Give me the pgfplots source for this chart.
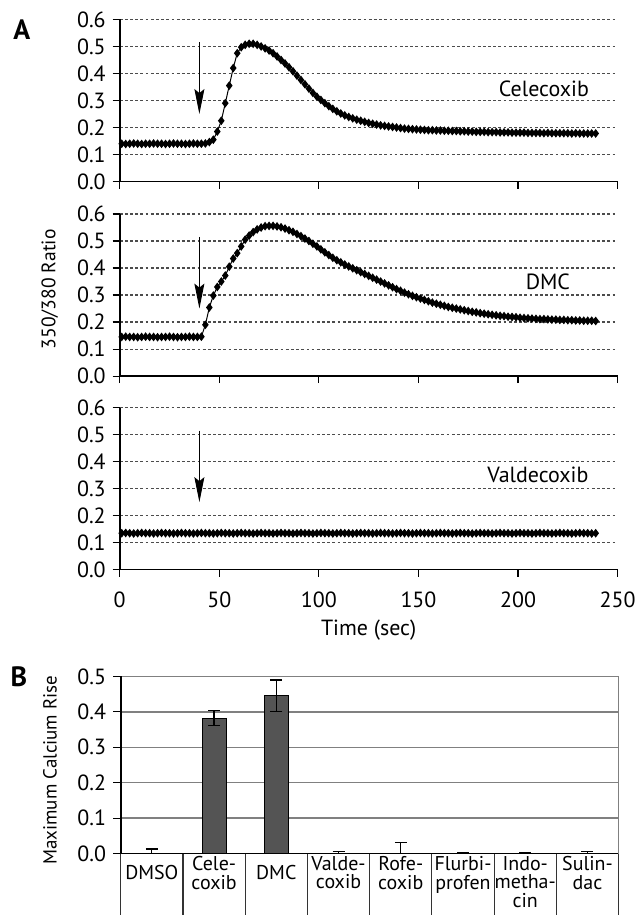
\documentclass[border=0pt]{standalone}
\usepackage{fontspec}
\setmainfont{PT Sans}
\usepackage{pgfplots}
\pgfplotsset{compat=1.18}
\usepackage{pgfplotstable}
\usetikzlibrary{arrows.meta}

% 350/380 ratio traces (time in s)
\pgfplotstableread{
t   C     D     V
1   0.140 0.145 0.135
3   0.139 0.146 0.136
5   0.140 0.145 0.135
7   0.141 0.145 0.134
9   0.140 0.144 0.135
11  0.139 0.145 0.136
13  0.140 0.146 0.135
15  0.140 0.145 0.135
17  0.141 0.145 0.134
19  0.140 0.144 0.135
21  0.140 0.145 0.136
23  0.139 0.145 0.135
25  0.140 0.146 0.135
27  0.141 0.145 0.134
29  0.140 0.144 0.135
31  0.140 0.145 0.136
33  0.139 0.145 0.135
35  0.140 0.146 0.135
37  0.141 0.145 0.134
39  0.140 0.145 0.135
41  0.140 0.146 0.136
43  0.141 0.190 0.135
45  0.146 0.254 0.135
47  0.155 0.298 0.134
49  0.185 0.330 0.135
51  0.225 0.350 0.136
53  0.290 0.372 0.135
55  0.355 0.405 0.135
57  0.420 0.435 0.134
59  0.475 0.455 0.135
61  0.497 0.480 0.136
63  0.506 0.505 0.135
65  0.510 0.520 0.135
67  0.510 0.533 0.134
69  0.506 0.543 0.135
71  0.500 0.550 0.136
73  0.493 0.555 0.135
75  0.485 0.556 0.135
77  0.475 0.556 0.134
79  0.463 0.554 0.135
81  0.450 0.551 0.136
83  0.437 0.546 0.135
85  0.423 0.540 0.135
87  0.408 0.534 0.134
89  0.392 0.526 0.135
91  0.376 0.518 0.136
93  0.360 0.509 0.135
95  0.344 0.500 0.135
97  0.328 0.490 0.134
99  0.314 0.480 0.135
101 0.302 0.469 0.136
103 0.290 0.458 0.135
105 0.279 0.448 0.135
107 0.269 0.438 0.134
109 0.260 0.429 0.135
111 0.252 0.421 0.136
113 0.245 0.413 0.135
115 0.239 0.406 0.135
117 0.234 0.399 0.134
119 0.229 0.392 0.135
121 0.225 0.385 0.136
123 0.221 0.378 0.135
125 0.217 0.371 0.135
127 0.214 0.364 0.134
129 0.211 0.357 0.135
131 0.208 0.350 0.136
133 0.206 0.343 0.135
135 0.204 0.336 0.135
137 0.202 0.329 0.134
139 0.200 0.322 0.135
141 0.198 0.316 0.136
143 0.196 0.309 0.135
145 0.195 0.303 0.135
147 0.194 0.297 0.134
149 0.193 0.292 0.135
151 0.192 0.287 0.136
153 0.191 0.282 0.135
155 0.190 0.277 0.135
157 0.190 0.272 0.134
159 0.189 0.268 0.135
161 0.189 0.264 0.136
163 0.188 0.260 0.135
165 0.188 0.256 0.135
167 0.187 0.253 0.134
169 0.187 0.250 0.135
171 0.186 0.247 0.136
173 0.186 0.244 0.135
175 0.185 0.241 0.135
177 0.185 0.238 0.134
179 0.184 0.236 0.135
181 0.184 0.233 0.136
183 0.184 0.231 0.135
185 0.183 0.229 0.135
187 0.183 0.227 0.134
189 0.183 0.225 0.135
191 0.182 0.223 0.136
193 0.182 0.222 0.135
195 0.182 0.220 0.135
197 0.181 0.219 0.134
199 0.181 0.218 0.135
201 0.181 0.216 0.136
203 0.181 0.215 0.135
205 0.180 0.214 0.135
207 0.180 0.213 0.134
209 0.180 0.212 0.135
211 0.180 0.211 0.136
213 0.179 0.211 0.135
215 0.180 0.210 0.135
217 0.179 0.209 0.134
219 0.179 0.209 0.135
221 0.179 0.208 0.136
223 0.179 0.208 0.135
225 0.179 0.207 0.135
227 0.178 0.207 0.134
229 0.179 0.206 0.135
231 0.178 0.206 0.136
233 0.178 0.205 0.135
235 0.178 0.205 0.135
237 0.178 0.205 0.134
239 0.178 0.204 0.135
}\ratio

\tikzset{
  inj/.style={-{Stealth[length=12.5pt, width=5pt, inset=2pt]}, line width=0.5pt},
  tag/.style={font=\fontsize{11}{13}\selectfont},
}

\pgfplotsset{
  panelA/.style={
    at={(60pt,#1)}, anchor=south west,
    scale only axis, width=249.5pt, height=81.25pt,
    xmin=0, xmax=250, ymin=0, ymax=0.6,
    axis lines*=left, axis line style={line width=0.8pt, -},
    xtick={0,50,100,150,200,250},
    ytick={0,0.1,0.2,0.3,0.4,0.5,0.6},
    tick align=outside, major tick length=3.5pt,
    tick style={black, line width=0.6pt},
    ymajorgrids,
    grid style={black!70, line width=0.6pt, dash pattern=on 1.4pt off 1.2pt},
    yticklabel style={/pgf/number format/fixed, /pgf/number format/fixed zerofill,
      /pgf/number format/precision=1},
    xticklabel style={yshift=-4pt},
    /pgf/number format/assume math mode=true,
    tick label style={font=\fontsize{11}{12}\selectfont},
    clip=false,
  },
  trace/.style={black, line width=0.5pt, mark=diamond*, mark size=1.8pt,
    mark options={solid, fill=black}},
}

\begin{document}
\begin{tikzpicture}
\path (0,0) rectangle (319pt,458pt);

\begin{axis}[panelA=367pt, xticklabels={}]
  \addplot[trace] table[x=t, y=C] {\ratio};
  \draw[inj] (axis cs:40,0.515) -- (axis cs:40,0.25);
  \node[tag] at (axis cs:213,0.345) {Celecoxib};
\end{axis}

\begin{axis}[panelA=269.5pt, xticklabels={}]
  \addplot[trace] table[x=t, y=D] {\ratio};
  \draw[inj] (axis cs:40,0.515) -- (axis cs:40,0.25);
  \node[tag] at (axis cs:215,0.348) {DMC};
\end{axis}

\begin{axis}[panelA=172.5pt, xlabel={Time (sec)},
  xlabel style={at={(axis description cs:0.5,0)}, yshift=-30.5pt, anchor=center,
    font=\fontsize{11}{13}\selectfont}]
  \addplot[trace] table[x=t, y=V] {\ratio};
  \draw[inj] (axis cs:40,0.515) -- (axis cs:40,0.25);
  \node[tag] at (axis cs:210,0.351) {Valdecoxib};
\end{axis}

\node[rotate=90, font=\fontsize{9.8}{11}\selectfont] at (25pt,313pt) {350/380 Ratio};
\node[font=\bfseries\fontsize{14}{14}\selectfont] at (11pt,443pt) {A};

\begin{axis}[
  at={(60.5pt,30.25pt)}, anchor=south west,
  scale only axis, width=249.5pt, height=88.75pt,
  xmin=0.5, xmax=8.5, ymin=0, ymax=0.5,
  axis lines*=left, axis line style={line width=0.8pt, -},
  ytick={0,0.1,0.2,0.3,0.4,0.5},
  xtick={1,2,3,4,5,6,7,8},
  xticklabels={{\raisebox{-4.6pt}[\height]{DMSO}}, {Cele-\\coxib}, {\raisebox{-4.6pt}[\height]{DMC}},
    {Valde-\\coxib}, {Rofe-\\coxib}, {Flurbi-\\profen}, {Indo-\\metha-\\cin}, {Sulin-\\dac}},
  xtick style={draw=none},
  tick align=outside, major tick length=3.8pt,
  ytick style={black, line width=0.6pt},
  ymajorgrids, grid style={black!50, line width=0.7pt},
  yticklabel style={/pgf/number format/fixed, /pgf/number format/fixed zerofill,
    /pgf/number format/precision=1, font=\fontsize{11}{12}\selectfont},
  /pgf/number format/assume math mode=true,
  xticklabel style={align=center, anchor=north, inner sep=0.5pt, yshift=3pt,
    font=\fontsize{10}{9.2}\selectfont},
  clip=false,
]
  \draw[black!50, line width=0.7pt] (rel axis cs:1,0) -- (rel axis cs:1,1);
  \addplot[ybar, bar width=12pt, fill=black!67, draw=black, line width=0.5pt,
    error bars/.cd, y dir=both, y explicit,
    error bar style={black, line width=0.6pt},
    error mark options={rotate=90, mark size=3pt, black, line width=0.6pt}]
    coordinates {
      (1,0.001) += (0,0.012) -= (0,0)
      (2,0.382) +- (0,0.021)
      (3,0.446) +- (0,0.044)
      (4,0.001) += (0,0.005) -= (0,0)
      (5,0.001) += (0,0.030) -= (0,0)
      (6,0.001) += (0,0.001) -= (0,0)
      (7,0.001) += (0,0.001) -= (0,0)
      (8,0.001) += (0,0.004) -= (0,0)
    };
  \pgfplotsinvokeforeach{0.5,1.5,2.5,3.5,4.5,5.5,6.5,7.5,8.5}{
    \draw[black!80, line width=0.6pt] (axis cs:#1,0) -- ([yshift=-31pt]axis cs:#1,0);
  }
\end{axis}

\node[rotate=90, font=\fontsize{9.5}{11}\selectfont] at (25pt,72pt) {Maximum Calcium Rise};
\node[font=\bfseries\fontsize{14}{14}\selectfont] at (9.5pt,119pt) {B};
\end{tikzpicture}
\end{document}
